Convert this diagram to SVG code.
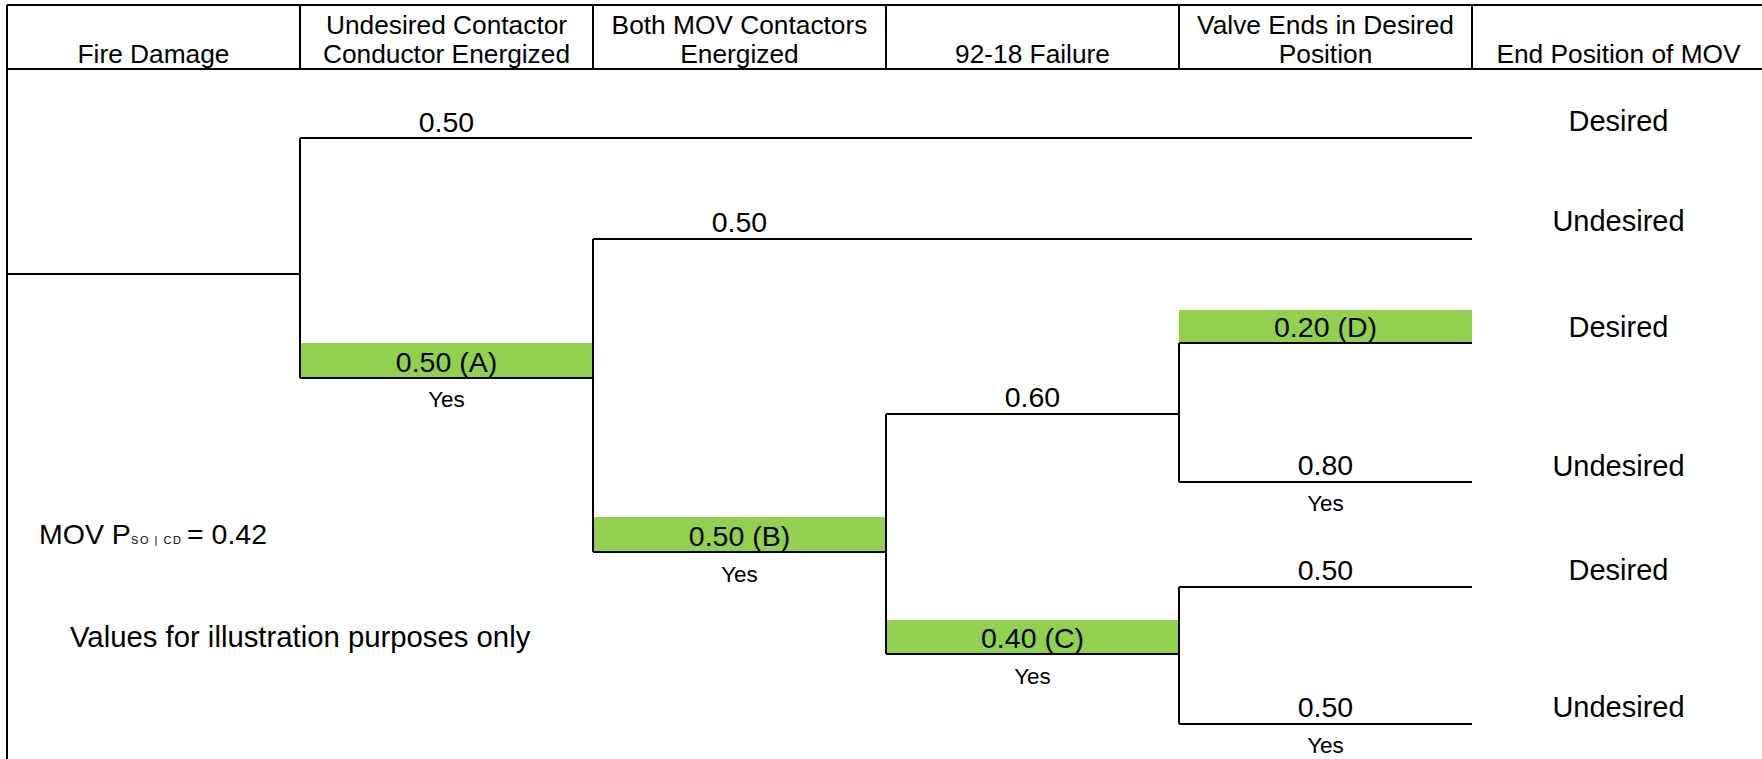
<svg xmlns="http://www.w3.org/2000/svg" width="1762" height="759" viewBox="0 0 1762 759">
  <style>
    .ln { stroke: #000; stroke-width: 2; fill: none; }
    .hit { fill: #92D050; }
    text { font-family: "Liberation Sans", Arial, sans-serif; fill: #000; }
    .hd { font-size: 26.3px; text-anchor: middle; }
    .pr { font-size: 28.5px; text-anchor: middle; }
    .yes { font-size: 22.5px; text-anchor: middle; }
    .end { font-size: 29px; text-anchor: middle; }
    .note { font-size: 28.5px; }
    .note-wide { font-size: 29.3px; }
    .sub { font-size: 11px; }
  </style>
  <rect x="0" y="0" width="1762" height="759" fill="#fff"/>

  <!-- header grid -->
  <g id="header">
    <path class="ln" d="M7,5 H1764 M7,69 H1764 M7,5 V760 M300,5 V69 M593,5 V69 M886,5 V69 M1179,5 V69 M1472,5 V69"/>
    <text class="hd" x="153.5" y="63">Fire Damage</text>
    <text class="hd" x="446.5" y="34">Undesired Contactor</text>
    <text class="hd" x="446.5" y="63">Conductor Energized</text>
    <text class="hd" x="739.5" y="34">Both MOV Contactors</text>
    <text class="hd" x="739.5" y="63">Energized</text>
    <text class="hd" x="1032.5" y="63">92-18 Failure</text>
    <text class="hd" x="1325.5" y="34">Valve Ends in Desired</text>
    <text class="hd" x="1325.5" y="63">Position</text>
    <text class="hd" x="1618.5" y="63">End Position of MOV</text>
  </g>

  <!-- highlighted branch bands -->
  <g id="bands">
    <rect class="hit" x="300" y="343" width="293" height="35"/>
    <rect class="hit" x="593" y="517" width="293" height="35"/>
    <rect class="hit" x="886" y="620" width="293" height="34"/>
    <rect class="hit" x="1179" y="310" width="293" height="33"/>
  </g>

  <!-- tree connectors -->
  <g id="connectors">
    <path class="ln" d="M7,274 H300 M300,138 V378 M300,138 H1472 M300,378 H593"/>
    <path class="ln" d="M593,239 V552 M593,239 H1472 M593,552 H886"/>
    <path class="ln" d="M886,414 V654 M886,414 H1179 M886,654 H1179"/>
    <path class="ln" d="M1179,343 V482 M1179,343 H1472 M1179,482 H1472"/>
    <path class="ln" d="M1179,587 V724 M1179,587 H1472 M1179,724 H1472"/>
  </g>

  <g id="node-contactor">
    <text class="pr" x="446.5" y="132">0.50</text>
    <text class="pr" x="446.5" y="372">0.50 (A)</text>
    <text class="yes" x="446.5" y="407">Yes</text>
  </g>

  <g id="node-both">
    <text class="pr" x="739.5" y="232">0.50</text>
    <text class="pr" x="739.5" y="546">0.50 (B)</text>
    <text class="yes" x="739.5" y="582">Yes</text>
  </g>

  <g id="node-failure">
    <text class="pr" x="1032.5" y="407">0.60</text>
    <text class="pr" x="1032.5" y="648">0.40 (C)</text>
    <text class="yes" x="1032.5" y="684">Yes</text>
  </g>

  <g id="node-valve-upper">
    <text class="pr" x="1325.5" y="337">0.20 (D)</text>
    <text class="pr" x="1325.5" y="475">0.80</text>
    <text class="yes" x="1325.5" y="511">Yes</text>
  </g>

  <g id="node-valve-lower">
    <text class="pr" x="1325.5" y="580">0.50</text>
    <text class="pr" x="1325.5" y="717">0.50</text>
    <text class="yes" x="1325.5" y="753">Yes</text>
  </g>

  <g id="end-states">
    <text class="end" x="1618.5" y="131">Desired</text>
    <text class="end" x="1618.5" y="231">Undesired</text>
    <text class="end" x="1618.5" y="337">Desired</text>
    <text class="end" x="1618.5" y="476">Undesired</text>
    <text class="end" x="1618.5" y="580">Desired</text>
    <text class="end" x="1618.5" y="717">Undesired</text>
  </g>

  <g id="notes">
    <text class="note" x="39" y="544">MOV P</text>
    <text class="sub" x="131" y="544" textLength="50" lengthAdjust="spacing">SO | CD</text>
    <text class="note" x="187" y="544">= 0.42</text>
    <text class="note-wide" x="70" y="647">Values for illustration purposes only</text>
  </g>
</svg>
